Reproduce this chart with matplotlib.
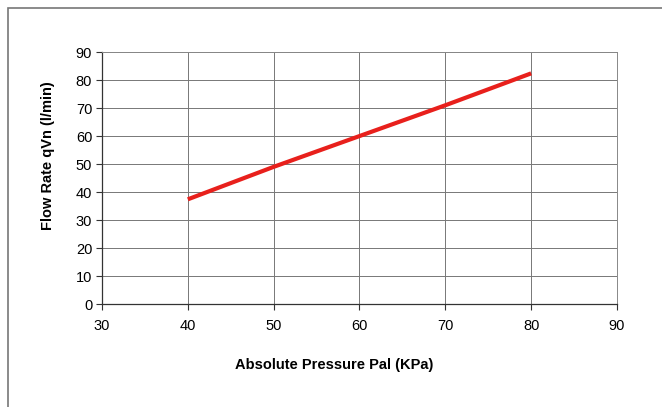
import matplotlib
matplotlib.use('Agg')
from matplotlib import pyplot as plt
from matplotlib.patches import Rectangle

plt.rcParams['font.family'] = ['Liberation Sans', 'DejaVu Sans']

pressure = [40, 50, 60, 70, 80]
flow_rate = [37.4, 49.0, 60.0, 71.0, 82.4]
x_ticks = [30, 40, 50, 60, 70, 80, 90]
y_ticks = [0, 10, 20, 30, 40, 50, 60, 70, 80, 90]

fig = plt.figure(figsize=(6.62, 4.07), dpi=100)
ax = fig.add_axes([0.154, 0.253, 0.778, 0.619])

# outer chart frame
fig.patches.append(Rectangle((0.012, -0.02), 1.0, 1.0, transform=fig.transFigure,
                             fill=False, edgecolor='#777777', linewidth=1.2))

ax.plot(pressure, flow_rate, color='#e8201c', linewidth=3, solid_capstyle='butt', zorder=3)

ax.set_xlim(30, 90)
ax.set_ylim(0, 90)
ax.set_xticks(x_ticks)
ax.set_yticks(y_ticks)
ax.grid(True, color='#777777', linewidth=0.7)
ax.set_axisbelow(True)

for side in ['top', 'right']:
    ax.spines[side].set_color('#888888')
    ax.spines[side].set_linewidth(0.7)
for side in ['left', 'bottom']:
    ax.spines[side].set_color('#333333')
    ax.spines[side].set_linewidth(0.9)

ax.tick_params(axis='both', labelsize=10.5, length=4, width=0.8, color='#333333', pad=3)
ax.tick_params(axis='x', pad=7)

ax.set_xlabel('Absolute Pressure Pal (KPa)', fontsize=10.5, fontweight='bold')
ax.set_ylabel('Flow Rate qVn (l/min)', fontsize=10.5, fontweight='bold')
ax.xaxis.set_label_coords(0.45, -0.242)
ax.yaxis.set_label_coords(-0.105, 0.59)
ax.xaxis.label.set_va('center')
ax.yaxis.label.set_va('center')

plt.savefig('out.png', dpi=100)
